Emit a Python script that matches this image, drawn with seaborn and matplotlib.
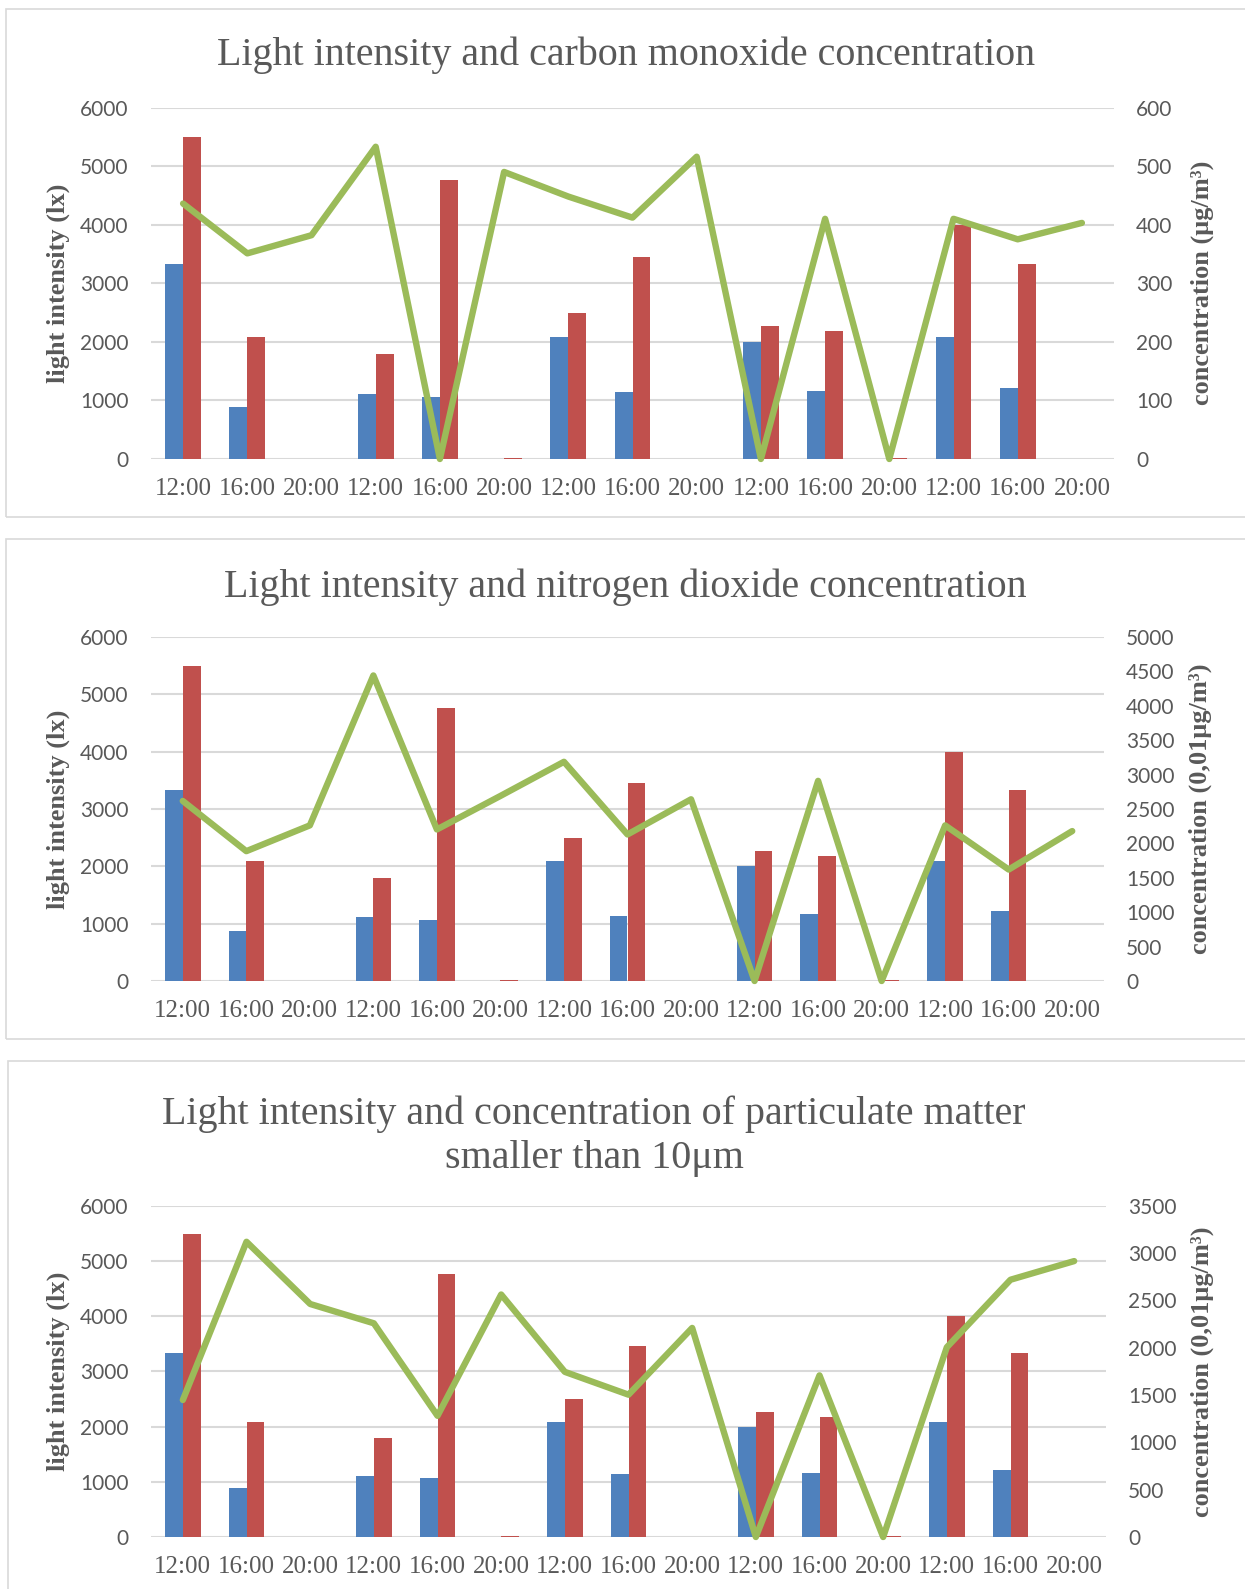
import numpy as np
import pandas as pd
import matplotlib
matplotlib.use("Agg")
import matplotlib.pyplot as plt
import seaborn as sns
from matplotlib.patches import Rectangle

# ---------------- data ----------------
times = ["12:00", "16:00", "20:00"] * 5
light_a = [3330, 880, 0, 1110, 1060, 5, 2090, 1140, 0, 2000, 1160, 5, 2090, 1220, 0]
light_b = [5490, 2090, 0, 1790, 4760, 12, 2500, 3450, 0, 2270, 2180, 12, 4000, 3330, 0]
co_conc = [436, 351, 382, 533, 0, 490, 448, 412, 516, 0, 410, 0, 410, 375, 403]
no2_conc = [2617, 1887, 2262, 4441, 2203, 2690, 3186, 2130, 2641, 0, 2909, 0, 2262, 1620, 2179]
pm10_conc = [1447, 3118, 2461, 2257, 1280, 2561, 1744, 1503, 2208, 0, 1707, 0, 2004, 2717, 2914]

titles = ["Light intensity and carbon monoxide concentration",
          "Light intensity and nitrogen dioxide concentration",
          "Light intensity and concentration of particulate matter\nsmaller than 10\u03bcm"]
left_label = "light intensity (lx)"
right_labels = ["concentration (\u03bcg/m\u00b3)",
                "concentration (0,01\u03bcg/m\u00b3)",
                "concentration (0,01\u03bcg/m\u00b3)"]
left_ticks = [0, 1000, 2000, 3000, 4000, 5000, 6000]
right_ticks = [[0, 100, 200, 300, 400, 500, 600],
               [0, 500, 1000, 1500, 2000, 2500, 3000, 3500, 4000, 4500, 5000],
               [0, 500, 1000, 1500, 2000, 2500, 3000, 3500]]
concs = [co_conc, no2_conc, pm10_conc]

# ---------------- style ----------------
sns.set_theme(style="white")
plt.rcParams["font.family"] = ["Liberation Serif", "DejaVu Serif"]
BLUE, RED, GREEN = "#4F81BD", "#C0504D", "#9BBB59"
GRID = "#D9D9D9"
TXT = "#595959"
NUMFONT = ["Lato", "DejaVu Sans"]

W, H = 1245, 1589
fig = plt.figure(figsize=(W / 100, H / 100), dpi=100)
fig.patch.set_facecolor("white")

def fx(px):
    return px / W

def fy(py):
    return 1 - py / H

# panel geometry in pixels
panels = [
    dict(left=151, right=1114, top=107.5, bottom=459, title_x=626, title_y=55,
         box=(6, 9, 1260, 517), rlab_x=1202),
    dict(left=151, right=1104, top=637, bottom=981, title_x=625, title_y=587,
         box=(6, 539, 1260, 1039), rlab_x=1200),
    dict(left=151, right=1106, top=1205.6, bottom=1537, title_x=594, title_y=1136,
         box=(8, 1061, 1260, 1620), rlab_x=1202),
]

df = pd.DataFrame({
    "pos": list(range(15)) * 2,
    "lux": light_a + light_b,
    "series": ["a"] * 15 + ["b"] * 15,
})

for i, p in enumerate(panels):
    # border box
    x0, y0, x1, y1 = p["box"]
    fig.patches.append(Rectangle((fx(x0), fy(y1)), fx(x1 - x0), (y1 - y0) / H,
                                 transform=fig.transFigure, fill=False,
                                 edgecolor=GRID, lw=1.2, zorder=0))
    ax = fig.add_axes([fx(p["left"]), fy(p["bottom"]),
                       fx(p["right"] - p["left"]), (p["bottom"] - p["top"]) / H])
    ax.set_facecolor("none")
    sns.barplot(data=df, x="pos", y="lux", hue="series", order=list(range(15)),
                palette=[BLUE, RED], width=0.56, gap=0, saturation=1,
                legend=False, ax=ax, zorder=2, linewidth=0)
    ax.set_ylim(0, 6000)
    ax.set_yticks(left_ticks)
    ax.set_yticklabels([str(t) for t in left_ticks], family=NUMFONT,
                       fontsize=15, color=TXT)
    ax.set_xticks(range(15))
    ax.set_xticklabels(times, fontsize=18, color=TXT)
    ax.tick_params(axis="both", length=0)
    ax.tick_params(axis="x", pad=14)
    ax.tick_params(axis="y", pad=16)
    ax.set_xlabel("")
    ax.set_ylabel("")
    ax.grid(axis="y", color=GRID, lw=1.5, zorder=0)
    ax.set_axisbelow(True)
    for s in ax.spines.values():
        s.set_visible(False)

    ax2 = ax.twinx()
    sns.lineplot(x=np.arange(15), y=concs[i], ax=ax2, color=GREEN, lw=4.6,
                 clip_on=False, zorder=3)
    rt = right_ticks[i]
    ax2.set_ylim(0, rt[-1])
    ax2.set_yticks(rt)
    ax2.set_yticklabels([str(t) for t in rt], family=NUMFONT, fontsize=15,
                        color=TXT)
    ax2.tick_params(axis="y", length=0, pad=16)
    ax2.set_ylabel("")
    ax2.grid(False)
    for s in ax2.spines.values():
        s.set_visible(False)
    ax.set_xlim(-0.5, 14.5)

    fig.text(fx(p["title_x"]), fy(p["title_y"]), titles[i], ha="center",
             va="center", fontsize=28.8, color=TXT, linespacing=1.25)
    mid = (p["top"] + p["bottom"]) / 2
    fig.text(fx(58), fy(mid), left_label, rotation=90, ha="center",
             va="center", fontsize=19, fontweight="bold", color=TXT)
    fig.text(fx(p["rlab_x"]), fy(mid), right_labels[i], rotation=90,
             ha="center", va="center", fontsize=19, fontweight="bold",
             color=TXT)

fig.savefig("out.png", dpi=100, facecolor="white")
